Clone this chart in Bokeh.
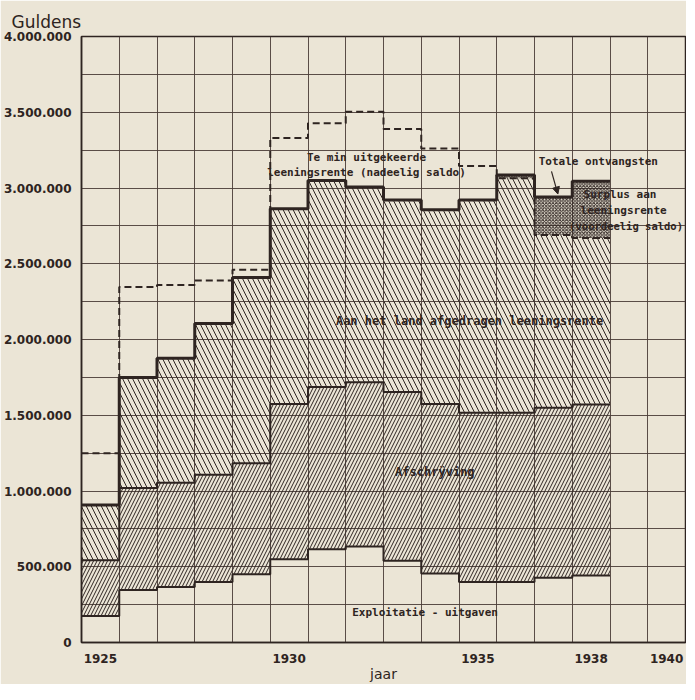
from bokeh.plotting import figure
from bokeh.models import FixedTicker, Label, Arrow, NormalHead, ColumnDataSource
from bokeh.embed import file_html
from bokeh.resources import INLINE

# ---- data (guldens) ----
years = [1925, 1926, 1927, 1928, 1929, 1930, 1931, 1932, 1933, 1934, 1935, 1936, 1937, 1938]
exploitatie_uitgaven = [175000, 346000, 366000, 400000, 450000, 550000, 615000, 634000, 540000, 455000, 400000, 400000, 427000, 442000]
afschrijving = [368000, 674000, 688000, 707000, 733000, 1025000, 1071000, 1083000, 1114000, 1120000, 1116000, 1116000, 1122000, 1129000]
afgedragen_leeningsrente = [365000, 730000, 822000, 998000, 1227000, 1288000, 1364000, 1290000, 1266000, 1281000, 1404000, 1549000, 1141000, 1099000]
te_min_uitgekeerd = [342000, 596000, 484000, 285000, 50000, 467000, 377000, 496000, 470000, 404000, 226000, 0, 0, 0]
surplus_leeningsrente = [0, 0, 0, 0, 0, 0, 0, 0, 0, 0, 0, 20000, 250000, 375000]

y_ticks = [0, 500000, 1000000, 1500000, 2000000, 2500000, 3000000, 3500000, 4000000]
y_tick_labels = ["0", "500.000", "1.000.000", "1.500.000", "2.000.000", "2.500.000", "3.000.000", "3.500.000", "4.000.000"]
x_ticks = [1925, 1930, 1935, 1938, 1940]
x_tick_labels = ["1925", "1930", "1935", "1938", "1940"]

INK = "#2e2421"
GRID = "#4a3c37"
PAPER = "#ebe5d6"
MONO = "DejaVu Sans Mono"

# ---- derived stack ----
n = len(years)
left = [y - 0.5 for y in years]
right = [y + 0.5 for y in years]
b1 = exploitatie_uitgaven[:]
t1 = [b1[i] + afschrijving[i] for i in range(n)]
t2 = [t1[i] + afgedragen_leeningsrente[i] for i in range(n)]
t3 = [t2[i] + surplus_leeningsrente[i] for i in range(n)]
req = [t2[i] + te_min_uitgekeerd[i] for i in range(n)]
edges = left + [right[-1]]

src = ColumnDataSource(dict(left=left, right=right, b1=b1, t1=t1, t2=t2, t3=t3))
sidx = [i for i in range(n) if surplus_leeningsrente[i] > 0]
src_s = ColumnDataSource(dict(left=[left[i] for i in sidx], right=[right[i] for i in sidx],
                              bottom=[t2[i] for i in sidx], top=[t3[i] for i in sidx]))

p = figure(width=686, height=684, x_range=(1924.5, 1940.5), y_range=(0, 4000000),
           output_backend="svg", toolbar_location=None,
           min_border_left=75, min_border_right=1, min_border_top=36, min_border_bottom=36,
           background_fill_color=PAPER, border_fill_color=PAPER,
           outline_line_color=INK, outline_line_width=1.5)

# title "Guldens"
p.title.text = "Guldens"
p.title.align = "left"
p.title.offset = -70
p.title.standoff = 10
p.title.text_font = "DejaVu Sans"
p.title.text_font_style = "normal"
p.title.text_font_size = "17px"
p.title.text_color = INK

# grid
p.xgrid.ticker = FixedTicker(ticks=[1924.5 + i for i in range(17)])
p.ygrid.ticker = FixedTicker(ticks=[i * 250000 for i in range(17)])
for g in (p.xgrid, p.ygrid):
    g.grid_line_color = GRID
    g.grid_line_width = 1
    g.grid_line_alpha = 0.9

# axes
p.xaxis.ticker = FixedTicker(ticks=x_ticks)
p.xaxis.major_label_overrides = {t: l for t, l in zip(x_ticks, x_tick_labels)}
p.yaxis.ticker = FixedTicker(ticks=y_ticks)
p.yaxis.major_label_overrides = {t: l for t, l in zip(y_ticks, y_tick_labels)}
for ax in (p.xaxis, p.yaxis):
    ax.major_tick_line_color = None
    ax.minor_tick_line_color = None
    ax.axis_line_color = INK
    ax.axis_line_width = 1.5
    ax.major_label_text_font = "DejaVu Sans"
    ax.major_label_text_font_style = "bold"
    ax.major_label_text_font_size = "12px"
    ax.major_label_text_color = INK
p.xaxis.major_label_standoff = 5
p.yaxis.major_label_standoff = 4
p.xaxis.axis_label = "jaar"
p.xaxis.axis_label_standoff = 0
p.xaxis.axis_label_text_font = "DejaVu Sans"
p.xaxis.axis_label_text_font_style = "normal"
p.xaxis.axis_label_text_font_size = "14px"
p.xaxis.axis_label_text_color = INK

# hatched areas
p.quad(left="left", right="right", bottom="b1", top="t1", source=src,
       fill_alpha=0, line_alpha=0, hatch_pattern="/", hatch_color=INK,
       hatch_weight=1, hatch_scale=7)
p.quad(left="left", right="right", bottom="t1", top="t2", source=src,
       fill_alpha=0, line_alpha=0, hatch_pattern="\\", hatch_color=INK,
       hatch_weight=1, hatch_scale=10)
p.quad(left="left", right="right", bottom="bottom", top="top", source=src_s,
       fill_alpha=0, line_alpha=0, hatch_pattern="x", hatch_color=INK,
       hatch_weight=1, hatch_scale=3.4)

# step outlines
p.step(edges, req + [req[-1]], mode="after", line_color=INK, line_width=2, line_dash="7 4")
p.step(edges, b1 + [b1[-1]], mode="after", line_color=INK, line_width=2)
p.step(edges, t1 + [t1[-1]], mode="after", line_color=INK, line_width=2)
p.step(edges, t3 + [t3[-1]], mode="after", line_color=INK, line_width=3)

# labels
def lab(x, y, text, size="11px", align="center"):
    p.add_layout(Label(x=x, y=y, text=text, text_font=MONO, text_font_size=size,
                       text_font_style="bold", text_color=INK,
                       text_align=align, text_baseline="middle"))

lab(1932.05, 3203000, "Te min uitgekeerde", size="11px")
lab(1932.05, 3105000, "leeningsrente (nadeelig saldo)", size="11px")
lab(1934.78, 2124000, "Aan het land afgedragen leeningsrente", size="12px")
lab(1933.86, 1124000, "Afschrÿving", size="12px")
lab(1933.6, 196000, "Exploitatie - uitgaven", size="11px")
lab(1938.19, 3176000, "Totale ontvangsten", size="11px")
lab(1937.80, 2954000, "Surplus aan", size="11px", align="left")
lab(1937.72, 2850000, "leeningsrente", size="11px", align="left")
lab(1937.42, 2752000, "(voordeelig saldo)", size="10.5px", align="left")

p.add_layout(Arrow(end=NormalHead(size=7, fill_color=INK, line_color=INK),
                   x_start=1936.95, y_start=3110000, x_end=1937.12, y_end=2960000,
                   line_color=INK, line_width=1.2))

open("out.html", "w").write(file_html(p, INLINE))
